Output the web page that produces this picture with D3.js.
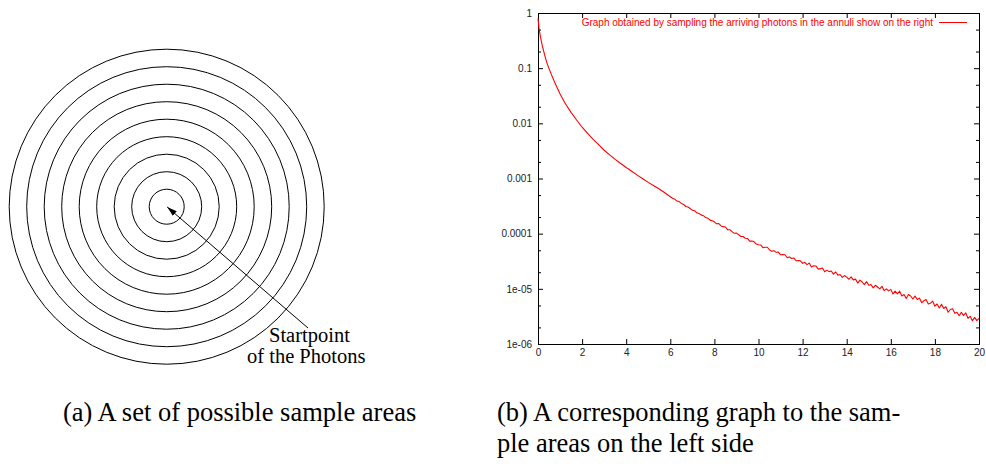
<!DOCTYPE html>
<html>
<head>
<meta charset="utf-8">
<script src="https://cdn.jsdelivr.net/npm/d3@7"></script>
<style>
  html, body { margin: 0; padding: 0; background: #fff; }
  svg { display: block; }
</style>
</head>
<body>
<svg id="fig" width="986" height="467"></svg>
<script>
// ---------------- data ----------------
const ringRadii = [1, 2, 3, 4, 5, 6, 7, 8, 9];           // annuli (in ring units)
const startLabel = ["Startpoint", "of the Photons"];
const captionA = ["(a) A set of possible sample areas"];
const captionB = ["(b) A corresponding graph to the sam-", "ple areas on the left side"];
const legendLabel = "Graph obtained by sampling the arriving photons in the annuli show on the right";

const xTicks = [0, 2, 4, 6, 8, 10, 12, 14, 16, 18, 20];
const yTicks = [1, 0.1, 0.01, 0.001, 0.0001, 1e-5, 1e-6];
const yTickLabels = ["1", "0.1", "0.01", "0.001", "0.0001", "1e-05", "1e-06"];
const yMinorTicks = [0.5, 0.2, 0.05, 0.02, 0.005, 0.002, 5e-4, 2e-4, 5e-5, 2e-5, 5e-6, 2e-6];

const distance = [
  0, 0.05, 0.1, 0.15, 0.2, 0.3, 0.4, 0.5, 0.6, 0.75,
  1, 1.25, 1.5, 1.75, 2, 2.25, 2.5, 2.75, 3, 3.25,
  3.5, 3.75, 4, 4.25, 4.5, 4.75, 5, 5.25, 5.5, 5.75,
  6, 6.1, 6.2, 6.3, 6.4, 6.5, 6.6, 6.7, 6.8, 6.9,
  7, 7.1, 7.2, 7.3, 7.4, 7.5, 7.6, 7.7, 7.8, 7.9,
  8, 8.1, 8.2, 8.3, 8.4, 8.5, 8.6, 8.7, 8.8, 8.9,
  9, 9.1, 9.2, 9.3, 9.4, 9.5, 9.6, 9.7, 9.8, 9.9,
  10, 10.1, 10.2, 10.3, 10.4, 10.5, 10.6, 10.7, 10.8, 10.9,
  11, 11.1, 11.2, 11.3, 11.4, 11.5, 11.6, 11.7, 11.8, 11.9,
  12, 12.1, 12.2, 12.3, 12.4, 12.5, 12.6, 12.7, 12.8, 12.9,
  13, 13.1, 13.2, 13.3, 13.4, 13.5, 13.6, 13.7, 13.8, 13.9,
  14, 14.1, 14.2, 14.3, 14.4, 14.5, 14.6, 14.7, 14.8, 14.9,
  15, 15.1, 15.2, 15.3, 15.4, 15.5, 15.6, 15.7, 15.8, 15.9,
  16, 16.1, 16.2, 16.3, 16.4, 16.5, 16.6, 16.7, 16.8, 16.9,
  17, 17.1, 17.2, 17.3, 17.4, 17.5, 17.6, 17.7, 17.8, 17.9,
  18, 18.1, 18.2, 18.3, 18.4, 18.5, 18.6, 18.7, 18.8, 18.9,
  19, 19.1, 19.2, 19.3, 19.4, 19.5, 19.6, 19.7, 19.8, 19.9,
  20
];
const fraction = [
  0.8, 0.52, 0.39, 0.31, 0.25, 0.174, 0.126, 0.098, 0.078, 0.056,
  0.034, 0.0224, 0.0158, 0.0115, 0.0085, 0.0066, 0.0051, 0.0041, 0.00325, 0.00268,
  0.00222, 0.00187, 0.00158, 0.00135, 0.00115, 0.00099, 0.00085, 0.00074, 0.000646, 0.00055,
  4.68e-4, 4.38e-4, 4.22e-4, 3.90e-4, 3.82e-4, 3.53e-4, 3.39e-4, 3.11e-4, 3.04e-4, 2.85e-4,
  2.66e-4, 2.61e-4, 2.39e-4, 2.32e-4, 2.19e-4, 2.12e-4, 1.96e-4, 1.91e-4, 1.76e-4, 1.72e-4,
  1.64e-4, 1.51e-4, 1.52e-4, 1.38e-4, 1.34e-4, 1.32e-4, 1.18e-4, 1.18e-4, 1.09e-4, 1.015e-4,
  1.025e-4, 9.58e-5, 8.90e-5, 8.89e-5, 8.26e-5, 8.19e-5, 7.32e-5, 7.34e-5, 7.11e-5, 6.49e-5,
  6.29e-5, 6.25e-5, 5.57e-5, 5.67e-5, 5.67e-5, 5.09e-5, 4.79e-5, 4.92e-5, 4.59e-5, 4.64e-5,
  4.14e-5, 4.19e-5, 4.14e-5, 3.66e-5, 3.79e-5, 3.54e-5, 3.63e-5, 3.23e-5, 3.26e-5, 3.22e-5,
  2.90e-5, 3.02e-5, 2.75e-5, 2.93e-5, 2.48e-5, 2.61e-5, 2.60e-5, 2.30e-5, 2.30e-5, 2.39e-5,
  2.04e-5, 2.18e-5, 2.05e-5, 2.11e-5, 1.84e-5, 2.02e-5, 1.77e-5, 1.82e-5, 1.61e-5, 1.74e-5,
  1.63e-5, 1.49e-5, 1.65e-5, 1.45e-5, 1.50e-5, 1.27e-5, 1.44e-5, 1.33e-5, 1.19e-5, 1.35e-5,
  1.16e-5, 1.20e-5, 1.04e-5, 1.16e-5, 1.08e-5, 9.98e-6, 1.11e-5, 9.26e-6, 9.96e-6, 9.18e-6,
  9.78e-6, 8.09e-6, 9.10e-6, 8.11e-6, 9.06e-6, 7.42e-6, 7.89e-6, 6.68e-6, 7.87e-6, 7.42e-6,
  6.54e-6, 7.40e-6, 6.41e-6, 6.79e-6, 5.59e-6, 6.10e-6, 6.38e-6, 5.32e-6, 5.49e-6, 5.99e-6,
  4.85e-6, 5.31e-6, 4.49e-6, 5.24e-6, 4.41e-6, 4.74e-6, 3.76e-6, 4.22e-6, 4.36e-6, 3.62e-6,
  3.76e-6, 3.25e-6, 3.74e-6, 3.29e-6, 3.66e-6, 2.93e-6, 3.17e-6, 2.64e-6, 3.04e-6, 2.65e-6,
  2.92e-6
];

// ---------------- drawing ----------------
const svg = d3.select("#fig");
const serif = "'Liberation Serif', 'Times New Roman', Times, serif";
const sans = "'Liberation Sans', Arial, Helvetica, sans-serif";

// ----- (a) concentric circles -----
const cx = 166.7, cy = 206.7;
const rScale = d3.scaleLinear().domain([0, 9]).range([0, 157.5]);
const left = svg.append("g");
left.selectAll("circle.ring").data(ringRadii).join("circle")
  .attr("class", "ring")
  .attr("cx", cx).attr("cy", cy)
  .attr("r", d => rScale(d))
  .attr("fill", "none").attr("stroke", "#000").attr("stroke-width", 1);

svg.append("defs").append("marker")
  .attr("id", "ah").attr("viewBox", "0 0 10 6")
  .attr("refX", 10).attr("refY", 3)
  .attr("markerWidth", 10).attr("markerHeight", 6)
  .attr("markerUnits", "userSpaceOnUse")
  .attr("orient", "auto")
  .append("path").attr("d", "M0,0 L10,3 L0,6 Z").attr("fill", "#000");

left.append("line")
  .attr("x1", 308).attr("y1", 328)
  .attr("x2", cx + 0.5).attr("y2", cy + 0.3)
  .attr("stroke", "#000").attr("stroke-width", 1)
  .attr("marker-end", "url(#ah)");

left.selectAll("text.start").data(startLabel).join("text")
  .attr("class", "start")
  .attr("x", (d, i) => i === 0 ? 269 : 247)
  .attr("y", (d, i) => 342 + i * 21)
  .attr("font-family", serif).attr("font-size", 20.5)
  .attr("fill", "#000")
  .text(d => d);

// ----- (b) log plot -----
const x = d3.scaleLinear().domain([0, 20]).range([538, 979]);
const y = d3.scaleLog().domain([1e-6, 1]).range([344, 13]);

const plot = svg.append("g");

function styleAxis(g) {
  g.select(".domain").remove();
  g.selectAll(".tick line").attr("stroke", "#000").attr("stroke-width", 1);
  g.selectAll(".tick text").attr("font-family", sans).attr("font-size", 10).attr("fill", "#222");
}

// bottom axis
plot.append("g").attr("transform", `translate(0,${y.range()[0]})`)
  .call(d3.axisBottom(x).tickValues(xTicks).tickSize(-5).tickPadding(5).tickFormat(d3.format("d")))
  .call(styleAxis);
// top mirror
plot.append("g").attr("transform", `translate(0,${y.range()[1]})`)
  .call(d3.axisTop(x).tickValues(xTicks).tickSize(-5).tickFormat(""))
  .call(styleAxis);
// left axis
plot.append("g").attr("transform", `translate(${x.range()[0]},0)`)
  .call(d3.axisLeft(y).tickValues(yTicks).tickSize(-5).tickPadding(6)
    .tickFormat((d, i) => yTickLabels[i]))
  .call(styleAxis);
plot.append("g").attr("transform", `translate(${x.range()[0]},0)`)
  .call(d3.axisLeft(y).tickValues(yMinorTicks).tickSize(-3).tickFormat(""))
  .call(styleAxis);
// right mirror
plot.append("g").attr("transform", `translate(${x.range()[1]},0)`)
  .call(d3.axisRight(y).tickValues(yTicks).tickSize(-5).tickFormat(""))
  .call(styleAxis);
plot.append("g").attr("transform", `translate(${x.range()[1]},0)`)
  .call(d3.axisRight(y).tickValues(yMinorTicks).tickSize(-3).tickFormat(""))
  .call(styleAxis);

// frame
plot.append("rect")
  .attr("x", x.range()[0] + 0.5).attr("y", y.range()[1] + 0.5)
  .attr("width", x.range()[1] - x.range()[0])
  .attr("height", y.range()[0] - y.range()[1])
  .attr("fill", "none").attr("stroke", "#000").attr("stroke-width", 1);

// curve
const series = distance.map((d, i) => [d, fraction[i]]);
const line = d3.line().x(d => x(d[0])).y(d => y(d[1]));
plot.append("path").datum(series)
  .attr("d", line)
  .attr("fill", "none").attr("stroke", "#ff0000").attr("stroke-width", 1.1)
  .attr("stroke-linejoin", "round");

// legend
plot.append("text")
  .attr("x", 933).attr("y", 26)
  .attr("text-anchor", "end")
  .attr("font-family", sans).attr("font-size", 10)
  .attr("fill", "#ff0000")
  .text(legendLabel);
plot.append("line")
  .attr("x1", 939).attr("x2", 967).attr("y1", 22.5).attr("y2", 22.5)
  .attr("stroke", "#ff0000").attr("stroke-width", 1);

// captions
svg.append("text")
  .attr("x", 63).attr("y", 421)
  .attr("font-family", serif).attr("font-size", 26.5).attr("fill", "#000")
  .text(captionA[0]);
svg.selectAll("text.capb").data(captionB).join("text")
  .attr("class", "capb")
  .attr("x", 497).attr("y", (d, i) => 421 + i * 31)
  .attr("font-family", serif).attr("font-size", 26.5).attr("fill", "#000")
  .text(d => d);
</script>
</body>
</html>
